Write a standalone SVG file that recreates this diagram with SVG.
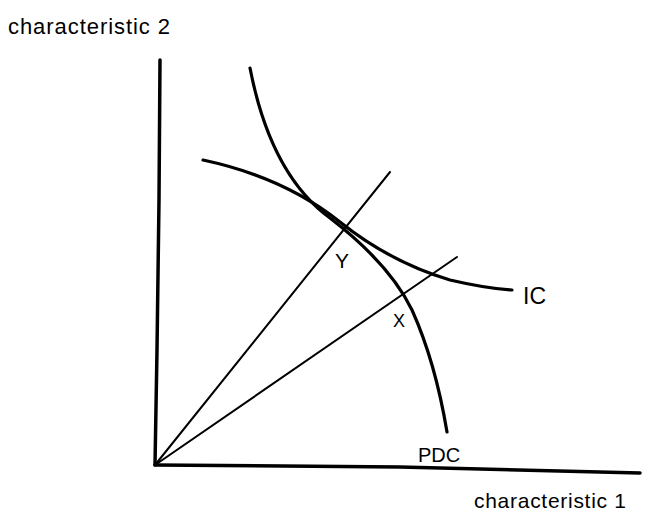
<svg xmlns="http://www.w3.org/2000/svg" width="649" height="519" viewBox="0 0 649 519">
<style>
.ax{stroke:#000;stroke-width:3.5;fill:none;stroke-linecap:round}
.ray{stroke:#000;stroke-width:2;fill:none;stroke-linecap:round}
.cv{stroke:#000;stroke-width:3.2;fill:none;stroke-linecap:round}
.t{font-family:"Liberation Sans",Arial,sans-serif;fill:#000}
</style>
<rect width="649" height="519" fill="#fff"/>
<g id="connectors">
<path class="ax" d="M160,60 L159,200 L157,350 L155,465"/>
<path class="ax" d="M155,465 L400,467 L640,473"/>
<path class="ray" d="M155,465 L390,172"/>
<path class="ray" d="M155,465 L457,257"/>
</g>
<g id="PDC">
<path class="cv" d="M250,68 C262,130 285,185 330,218 C365,245 395,275 412,310 C430,350 440,390 447,432"/>
<text class="t" x="418" y="462" font-size="20">PDC</text>
</g>
<g id="IC">
<path class="cv" d="M203,160 C250,170 300,190 340,222 C375,250 410,268 450,280 C480,287 495,289 512,290"/>
<text class="t" x="523" y="304" font-size="23">IC</text>
</g>
<g id="Y">
<text class="t" x="335" y="268" font-size="21">Y</text>
</g>
<g id="X">
<text class="t" x="393" y="327" font-size="18">X</text>
</g>
<g id="axis-labels">
<text class="t" x="8" y="34" font-size="22" textLength="162">characteristic 2</text>
<text class="t" x="474" y="508" font-size="21" textLength="152">characteristic 1</text>
</g>
</svg>
